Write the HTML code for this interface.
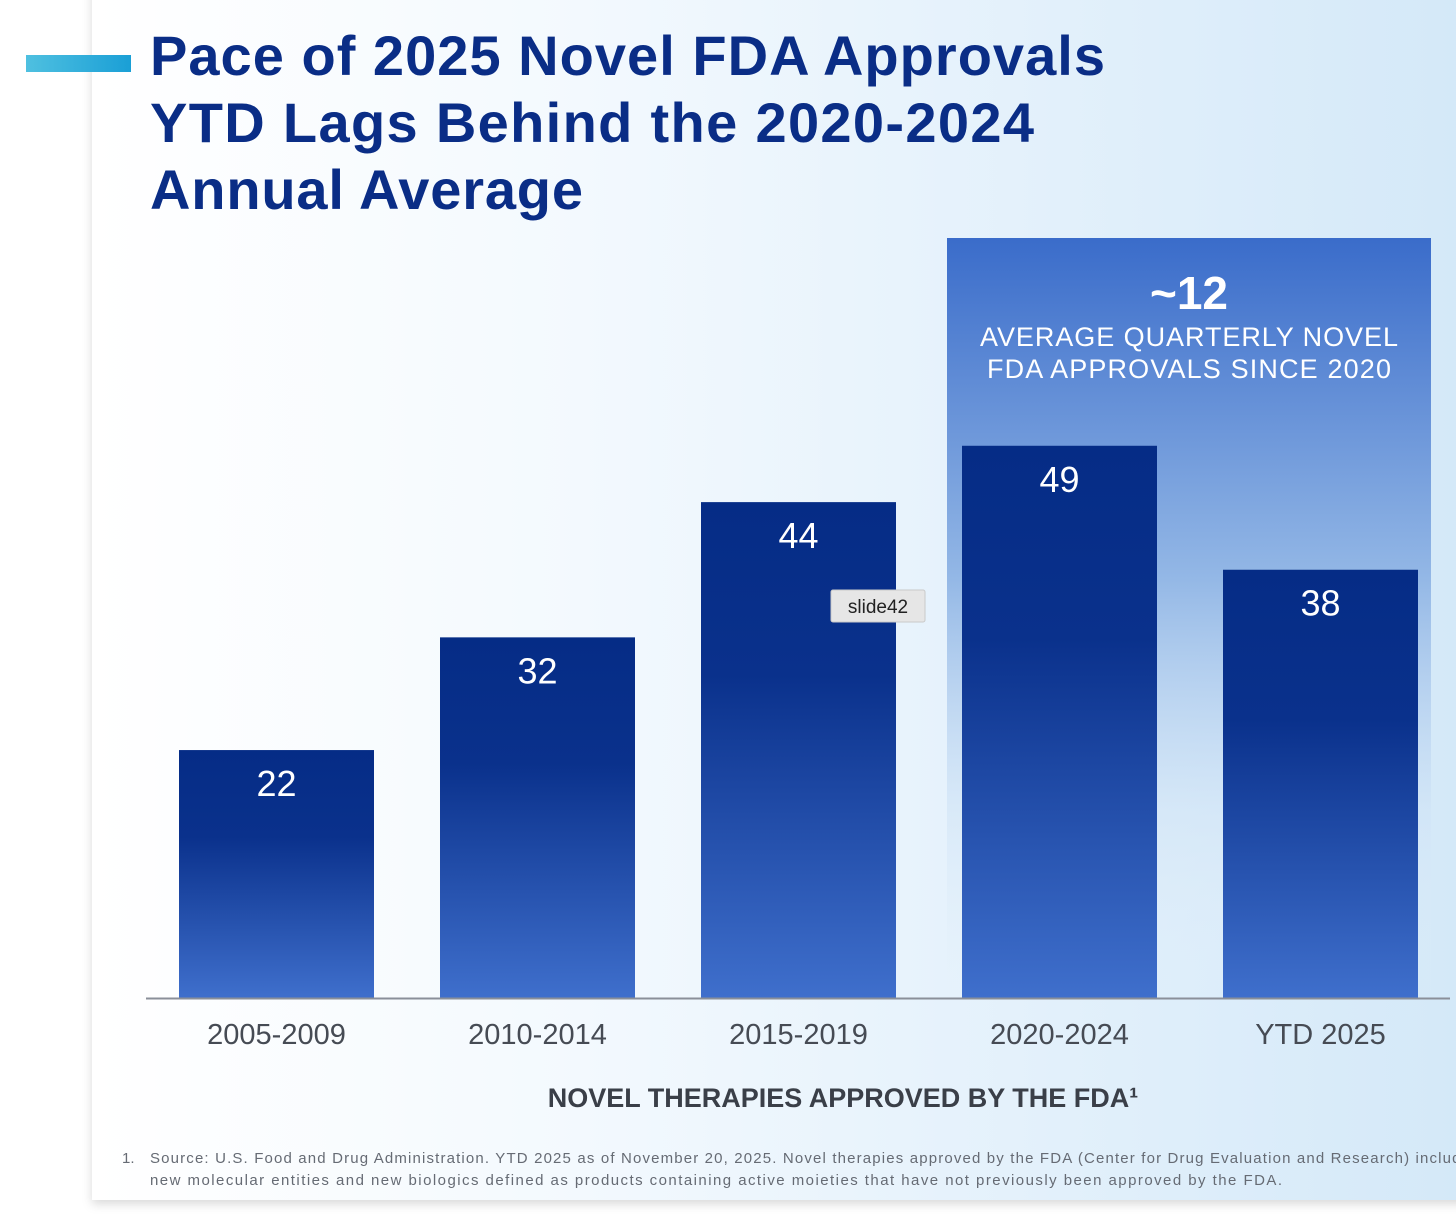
<!DOCTYPE html>
<html><head><meta charset="utf-8"><style>
html,body{margin:0;padding:0;width:1456px;height:1218px;overflow:hidden;background:#fff;}
svg{display:block;font-family:"Liberation Sans",sans-serif;}
</style></head><body>
<svg id="chart" width="1456" height="1218" viewBox="0 0 1456 1218">
<defs>
<linearGradient id="cardBg" x1="0" y1="0" x2="1" y2="0">
<stop offset="0" stop-color="#ffffff"/><stop offset="0.35" stop-color="#f3f9fe"/><stop offset="1" stop-color="#d3e8f8"/>
</linearGradient>
<linearGradient id="accent" x1="0" y1="0" x2="1" y2="0">
<stop offset="0" stop-color="#4fc0e0"/><stop offset="1" stop-color="#1a9fd6"/>
</linearGradient>
<linearGradient id="barGrad" x1="0" y1="0" x2="0" y2="1">
<stop offset="0" stop-color="#052c86"/><stop offset="0.35" stop-color="#0a318c"/><stop offset="1" stop-color="#3f6fcc"/>
</linearGradient>
<linearGradient id="boxGrad" x1="0" y1="0" x2="0" y2="1">
<stop offset="0" stop-color="#3a6cca"/><stop offset="0.45" stop-color="#94b8e6"/><stop offset="0.75" stop-color="#cfe3f6" stop-opacity="0.6"/><stop offset="1" stop-color="#e2effa" stop-opacity="0"/>
</linearGradient>
<filter id="sh" x="-5%" y="-5%" width="110%" height="110%"><feDropShadow dx="0" dy="4" stdDeviation="5" flood-color="#000" flood-opacity="0.15"/></filter>
</defs>
<rect x="92" y="-20" width="1400" height="1220" fill="url(#cardBg)" filter="url(#sh)"/>
<rect x="26" y="55" width="105" height="17" fill="url(#accent)"/>
<g fill="#0a2d86" font-weight="bold" font-size="56">
<text x="150" y="75" textLength="955">Pace of 2025 Novel FDA Approvals</text>
<text x="150" y="142" textLength="884">YTD Lags Behind the 2020-2024</text>
<text x="150" y="209" textLength="433">Annual Average</text>
</g>
<rect x="947" y="238" width="484" height="760" fill="url(#boxGrad)"/>
<text x="1189" y="309" text-anchor="middle" fill="#fff" font-size="46" font-weight="bold">~12</text>
<text x="1189" y="346" text-anchor="middle" fill="#fff" font-size="27" textLength="418">AVERAGE QUARTERLY NOVEL</text>
<text x="1189" y="378" text-anchor="middle" fill="#fff" font-size="27" textLength="404">FDA APPROVALS SINCE 2020</text>
<g id="bars"></g>
<line x1="146" y1="998.5" x2="1450" y2="998.5" stroke="#8a8f99" stroke-width="2"/>
<text x="843" y="1107" text-anchor="middle" fill="#3a3f48" font-size="27" font-weight="bold">NOVEL THERAPIES APPROVED BY THE FDA¹</text>
<g fill="#666b74" font-size="15">
<text x="122" y="1163">1.</text>
<text x="150" y="1163" textLength="1320">Source: U.S. Food and Drug Administration. YTD 2025 as of November 20, 2025. Novel therapies approved by the FDA (Center for Drug Evaluation and Research) include</text>
<text x="150" y="1185" textLength="1132">new molecular entities and new biologics defined as products containing active moieties that have not previously been approved by the FDA.</text>
</g>
<g>
<rect x="831" y="590" width="94" height="32" rx="2" fill="#e6e6e6" stroke="#c9c9c9"/>
<text x="878" y="613" text-anchor="middle" font-size="19" fill="#222">slide42</text>
</g>
</svg>
<script>
const categories = ["2005-2009","2010-2014","2015-2019","2020-2024","YTD 2025"];
const values = [22, 32, 44, 49, 38];
const valueLabels = ["22","32","44","49","38"];
const NS = "http://www.w3.org/2000/svg";
const baseY = 998, pxPerUnit = 11.27, firstX = 179, step = 261, barW = 195;
const xScale = i => firstX + i * step;
const yScale = v => baseY - v * pxPerUnit;
const g = document.getElementById("bars");
categories.forEach((c, i) => {
  const x = xScale(i), y = yScale(values[i]);
  const r = document.createElementNS(NS, "rect");
  r.setAttribute("x", x); r.setAttribute("y", y);
  r.setAttribute("width", barW); r.setAttribute("height", baseY - y);
  r.setAttribute("fill", "url(#barGrad)");
  
  
  g.appendChild(r);
  const t = document.createElementNS(NS, "text");
  t.setAttribute("x", x + barW / 2); t.setAttribute("y", y + 46);
  t.setAttribute("text-anchor", "middle"); t.setAttribute("fill", "#fff");
  t.setAttribute("font-size", "36");
  t.textContent = valueLabels[i];
  
  
  g.appendChild(t);
  const l = document.createElementNS(NS, "text");
  l.setAttribute("x", x + barW / 2); l.setAttribute("y", 1044);
  l.setAttribute("text-anchor", "middle"); l.setAttribute("fill", "#464b54");
  l.setAttribute("font-size", "29");
  l.textContent = c;
  
  
  g.appendChild(l);
});
</script>
</body></html>
